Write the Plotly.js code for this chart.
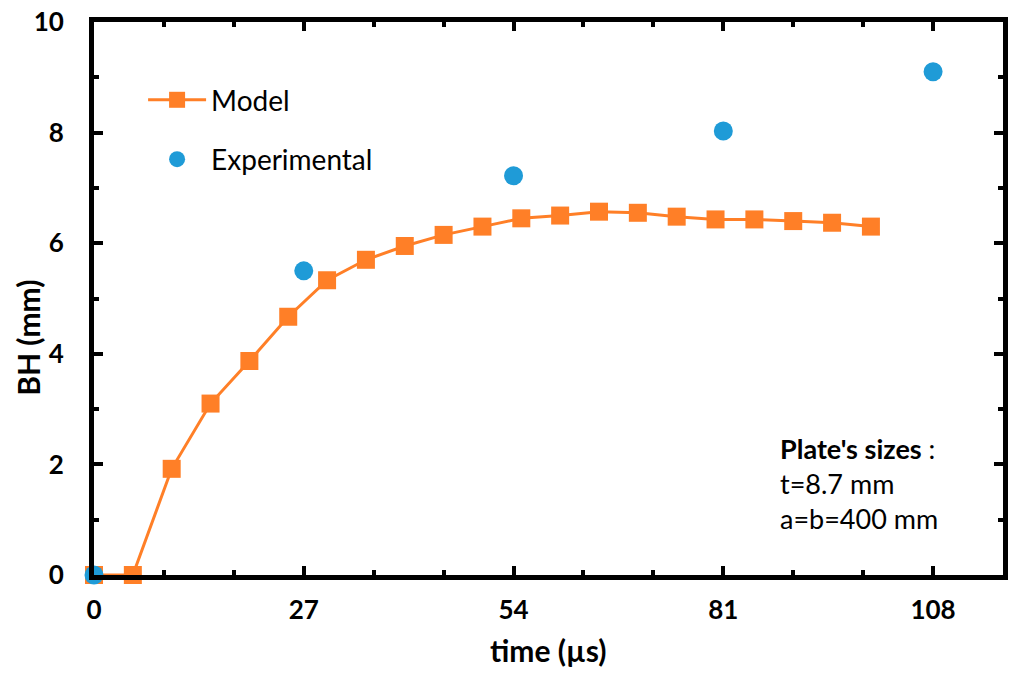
<!DOCTYPE html>
<html>
<head>
<meta charset="utf-8">
<script src="https://cdn.plot.ly/plotly-3.0.1.min.js"></script>
<style>html,body{margin:0;padding:0;background:#fff;}#chart{width:1010px;height:675px;}</style>
</head>
<body>
<div id="chart"></div>
<script>
const modelTime = [0, 5, 10, 15, 20, 25, 30, 35, 40, 45, 50, 55, 60, 65, 70, 75, 80, 85, 90, 95, 100];
const modelBH = [0, 0, 1.92, 3.1, 3.87, 4.67, 5.33, 5.7, 5.95, 6.15, 6.3, 6.45, 6.5, 6.57, 6.55, 6.48, 6.43, 6.43, 6.4, 6.37, 6.3];
const expTime = [0, 27, 54, 81, 108];
const expBH = [0, 5.5, 7.22, 8.03, 9.1];
const xTicks = [0, 27, 54, 81, 108];
const yTicks = [0, 2, 4, 6, 8, 10];

const FONT = 'Lato, "Open Sans", sans-serif';

const traces = [
  {
    x: modelTime, y: modelBH, name: 'Model', type: 'scatter', mode: 'lines+markers',
    line: {color: '#ff7f27', width: 3},
    marker: {symbol: 'square', size: 18, color: '#ff7f27'},
    legendgroup: 'a', cliponaxis: false
  },
  {
    x: expTime, y: expBH, name: 'Experimental', type: 'scatter', mode: 'markers',
    marker: {symbol: 'circle', size: 19, color: '#1f9bd7'},
    legendgroup: 'b', cliponaxis: false
  }
];

const axisCommon = {
  showline: true, linecolor: '#000', linewidth: 5, mirror: 'ticks',
  ticks: 'inside', ticklen: 9, tickwidth: 4, tickcolor: '#000',
  showgrid: false, zeroline: false,
  tickfont: {family: FONT, size: 26, color: '#000', weight: 'bold'},
  minor: {ticks: 'inside', ticklen: 5, tickwidth: 4, tickcolor: '#000', showgrid: false}
};

const titleFont = {family: FONT, size: 30, color: '#000', weight: 'bold'};

const layout = {
  width: 1010, height: 675,
  margin: {l: 94, r: 7, t: 22, b: 100},
  paper_bgcolor: '#fff', plot_bgcolor: '#fff',
  showlegend: true,
  legend: {
    x: 0.054, y: 0.904, xanchor: 'left', yanchor: 'top',
    font: {family: FONT, size: 28, color: '#000'},
    traceorder: 'grouped', tracegroupgap: 20,
    bgcolor: 'rgba(0,0,0,0)', itemwidth: 58
  },
  xaxis: Object.assign({}, axisCommon, {
    range: [0, 117], tickmode: 'array', tickvals: xTicks, ticktext: xTicks.map(String),
    minor: Object.assign({}, axisCommon.minor, {dtick: 9, tick0: 0}),
    ticklabelstandoff: 8
  }),
  yaxis: Object.assign({}, axisCommon, {
    range: [0, 10], tickmode: 'array', tickvals: yTicks, ticktext: yTicks.map(String),
    minor: Object.assign({}, axisCommon.minor, {dtick: 1, tick0: 0}),
    ticklabelstandoff: 20
  }),
  annotations: [
    {xref: 'paper', yref: 'paper', x: 0.7525, y: 0.262, xanchor: 'left', yanchor: 'top', align: 'left',
     showarrow: false,
     text: "<b>Plate's sizes</b> :<br>t=8.7 mm<br>a=b=400 mm",
     font: {family: FONT, size: 27, color: '#000'}},
    {xref: 'paper', yref: 'paper', x: 0.5, y: -0.135, xanchor: 'center', yanchor: 'middle',
     showarrow: false, text: 'time (µs)', font: titleFont},
    {xref: 'paper', yref: 'paper', x: -0.072, y: 0.428, xanchor: 'center', yanchor: 'middle',
     showarrow: false, textangle: -90, text: 'BH (mm)', font: titleFont}
  ]
};

Plotly.newPlot('chart', traces, layout, {displayModeBar: false, staticPlot: true});
</script>
</body>
</html>
